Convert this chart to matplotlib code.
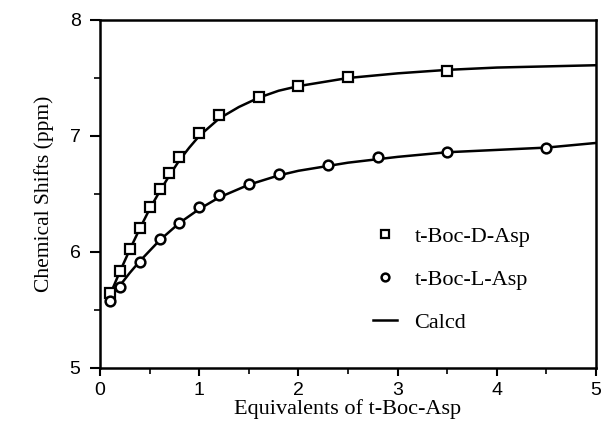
import numpy as np
import matplotlib.pyplot as plt
from matplotlib.ticker import MultipleLocator

# measured points
d_x = [0.1, 0.2, 0.3, 0.4, 0.5, 0.6, 0.7, 0.8, 1.0, 1.2, 1.6, 2.0, 2.5, 3.5]
d_y = [5.65, 5.84, 6.03, 6.21, 6.39, 6.54, 6.68, 6.82, 7.03, 7.18, 7.34, 7.43, 7.51, 7.56]

l_x = [0.1, 0.2, 0.4, 0.6, 0.8, 1.0, 1.2, 1.5, 1.8, 2.3, 2.8, 3.5, 4.5]
l_y = [5.58, 5.70, 5.91, 6.11, 6.25, 6.39, 6.49, 6.59, 6.67, 6.75, 6.82, 6.86, 6.90]

# calculated curves
dc_x = [0.1, 0.2, 0.3, 0.4, 0.5, 0.6, 0.7, 0.8, 0.9, 1.0, 1.2, 1.4, 1.6, 1.8, 2.0, 2.5, 3.0, 3.5, 4.0, 4.5, 5.0]
dc_y = [5.63, 5.83, 6.02, 6.20, 6.37, 6.52, 6.66, 6.79, 6.90, 7.00, 7.15, 7.25, 7.33, 7.39, 7.43, 7.50, 7.54, 7.57, 7.59, 7.60, 7.61]

lc_x = [0.1, 0.2, 0.3, 0.4, 0.5, 0.6, 0.8, 1.0, 1.2, 1.5, 1.8, 2.0, 2.5, 3.0, 3.5, 4.0, 4.5, 5.0]
lc_y = [5.60, 5.71, 5.82, 5.92, 6.01, 6.10, 6.25, 6.37, 6.47, 6.58, 6.66, 6.70, 6.77, 6.82, 6.86, 6.88, 6.90, 6.94]

fig = plt.figure(figsize=(6.01, 4.30), dpi=100)
ax = fig.add_axes([0.1664, 0.1442, 0.8253, 0.8093])

ax.plot(dc_x, dc_y, color='black', lw=1.8, label='_nolegend_')
ax.plot(lc_x, lc_y, color='black', lw=1.8, label='_nolegend_')
sq, = ax.plot(d_x, d_y, 's', ms=7, mfc='white', mec='black', mew=1.6, label='t-Boc-D-Asp')
ci, = ax.plot(l_x, l_y, 'o', ms=7, mfc='white', mec='black', mew=1.8, label='t-Boc-L-Asp')
ln, = ax.plot([], [], color='black', lw=1.8, label='Calcd')

ax.set_xlim(0, 5)
ax.set_ylim(5, 8)
ax.xaxis.set_major_locator(MultipleLocator(1))
ax.xaxis.set_minor_locator(MultipleLocator(0.5))
ax.yaxis.set_major_locator(MultipleLocator(1))
ax.yaxis.set_minor_locator(MultipleLocator(0.5))
ax.tick_params(which='major', direction='out', width=1.5, labelsize=14)
ax.tick_params(axis='y', which='major', length=7, pad=7)
ax.tick_params(axis='x', which='major', length=6, pad=4)
ax.tick_params(which='minor', direction='out', length=4, width=1.2)
for lab in ax.get_xticklabels() + ax.get_yticklabels():
    lab.set_family('Liberation Sans')
for s in ax.spines.values():
    s.set_linewidth(1.8)

ax.set_xlabel('Equivalents of t-Boc-Asp', family='Liberation Serif', fontsize=16, labelpad=0)
ax.set_ylabel('Chemical Shifts (ppm)', family='Liberation Serif', fontsize=15.5, labelpad=11)

leg = ax.legend(handles=[sq, ci, ln], loc='center left', bbox_to_anchor=(0.55, 0.254),
                borderaxespad=0, borderpad=0,
                frameon=False, prop={'family': 'Liberation Serif', 'size': 16},
                handlelength=1.1, handletextpad=0.77, labelspacing=1.0, markerscale=0.8)

fig.savefig('out.png', dpi=100)
